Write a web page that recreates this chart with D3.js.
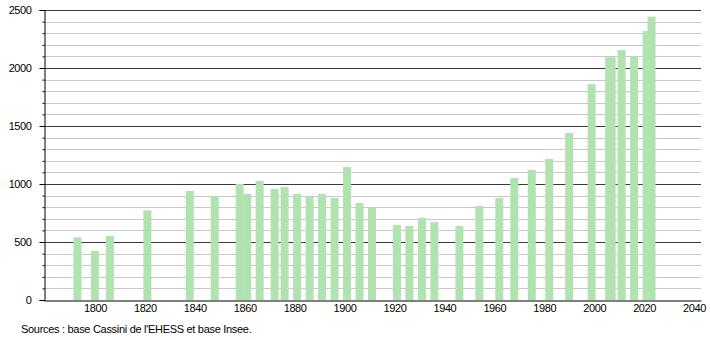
<!DOCTYPE html>
<html>
<head>
<meta charset="utf-8">
<script src="https://cdn.jsdelivr.net/npm/d3@7"></script>
<style>
  body { margin: 0; background: #fff; }
  text { font-family: "Liberation Sans", Arial, sans-serif; }
</style>
</head>
<body>
<div id="chart"></div>
<script>
// census years and population
const years = [1793, 1800, 1806, 1821, 1838, 1848, 1858, 1861, 1866, 1872, 1876, 1881, 1886,
    1891, 1896, 1901, 1906, 1911, 1921, 1926, 1931, 1936, 1946, 1954, 1962, 1968, 1975,
    1982, 1990, 1999, 2006, 2007, 2011, 2016, 2021, 2023];
const population = [540, 422, 552, 773, 940, 897, 1000, 914, 1026, 957, 974, 914, 894,
    914, 879, 1147, 836, 793, 647, 638, 707, 672, 638, 810, 879, 1052, 1121,
    1216, 1440, 1862, 2092, 2092, 2155, 2103, 2319, 2443];
const yMajorTicks = [0, 500, 1000, 1500, 2000, 2500];
const xTickYears = [1800, 1820, 1840, 1860, 1880, 1900, 1920, 1940, 1960, 1980, 2000, 2020, 2040];
const sourceText = "Sources : base Cassini de l'EHESS et base Insee.";

const width = 710, height = 340;
const plot = { left: 44, right: 701, top: 10, bottom: 300 };

const svg = d3.select("#chart")
    .append("svg")
    .attr("width", width)
    .attr("height", height);

const x = d3.scaleLinear()
    .domain([1779.6, 2042.8])
    .range([plot.left, plot.right]);

const y = d3.scaleLinear()
    .domain([0, 2500])
    .range([plot.bottom, plot.top]);

// minor grid every 100, major every 500
const minorTicks = y.ticks(25).filter(d => d % 500 !== 0);

svg.append("g")
    .selectAll("line")
    .data(minorTicks)
    .join("line")
    .attr("x1", plot.left)
    .attr("x2", plot.right)
    .attr("y1", d => Math.round(y(d)) + 0.5)
    .attr("y2", d => Math.round(y(d)) + 0.5)
    .attr("stroke", "#c8c8c8")
    .attr("stroke-width", 1);

svg.append("g")
    .selectAll("line")
    .data(yMajorTicks.filter(d => d > 0))
    .join("line")
    .attr("x1", plot.left)
    .attr("x2", plot.right)
    .attr("y1", d => Math.round(y(d)) + 0.5)
    .attr("y2", d => Math.round(y(d)) + 0.5)
    .attr("stroke", "#3a3a3a")
    .attr("stroke-width", 1);

// bars
const data = years.map((yr, i) => ({ year: yr, value: population[i] }));
const barWidth = 8;

svg.append("g")
    .selectAll("rect")
    .data(data)
    .join("rect")
    .attr("x", d => x(d.year) - barWidth / 2)
    .attr("y", d => y(d.value))
    .attr("width", barWidth)
    .attr("height", d => plot.bottom - y(d.value))
    .attr("fill", "#b0e3b0");

// y axis with major and minor ticks
const yAxis = svg.append("g")
    .attr("transform", `translate(${plot.left + 0.5},0)`);

yAxis.append("g")
    .call(d3.axisLeft(y).tickValues(minorTicks).tickSize(2).tickFormat(""))
    .call(g => g.select(".domain").remove());

yAxis.append("g")
    .call(d3.axisLeft(y).tickValues(yMajorTicks).tickSize(5).tickPadding(8).tickFormat(d3.format("d")))
    .call(g => g.select(".domain").attr("stroke", "#000"));

yAxis.selectAll(".tick line").attr("stroke", "#000");
yAxis.selectAll("text")
    .style("font-size", "11px")
    .style("letter-spacing", "-0.4px")
    .attr("fill", "#000");

// x axis, no tick marks
const xAxis = svg.append("g")
    .attr("transform", `translate(0,${plot.bottom + 0.5})`)
    .call(d3.axisBottom(x).tickValues(xTickYears).tickSize(0).tickPadding(4).tickFormat(d3.format("d")));

xAxis.select(".domain").attr("stroke", "#000");
xAxis.selectAll("text")
    .style("font-size", "11px")
    .style("letter-spacing", "-0.4px")
    .attr("fill", "#000");

// source note
svg.append("text")
    .attr("x", 21)
    .attr("y", 333)
    .style("font-size", "11px")
    .style("letter-spacing", "-0.3px")
    .attr("fill", "#000")
    .text(sourceText);
</script>
</body>
</html>
